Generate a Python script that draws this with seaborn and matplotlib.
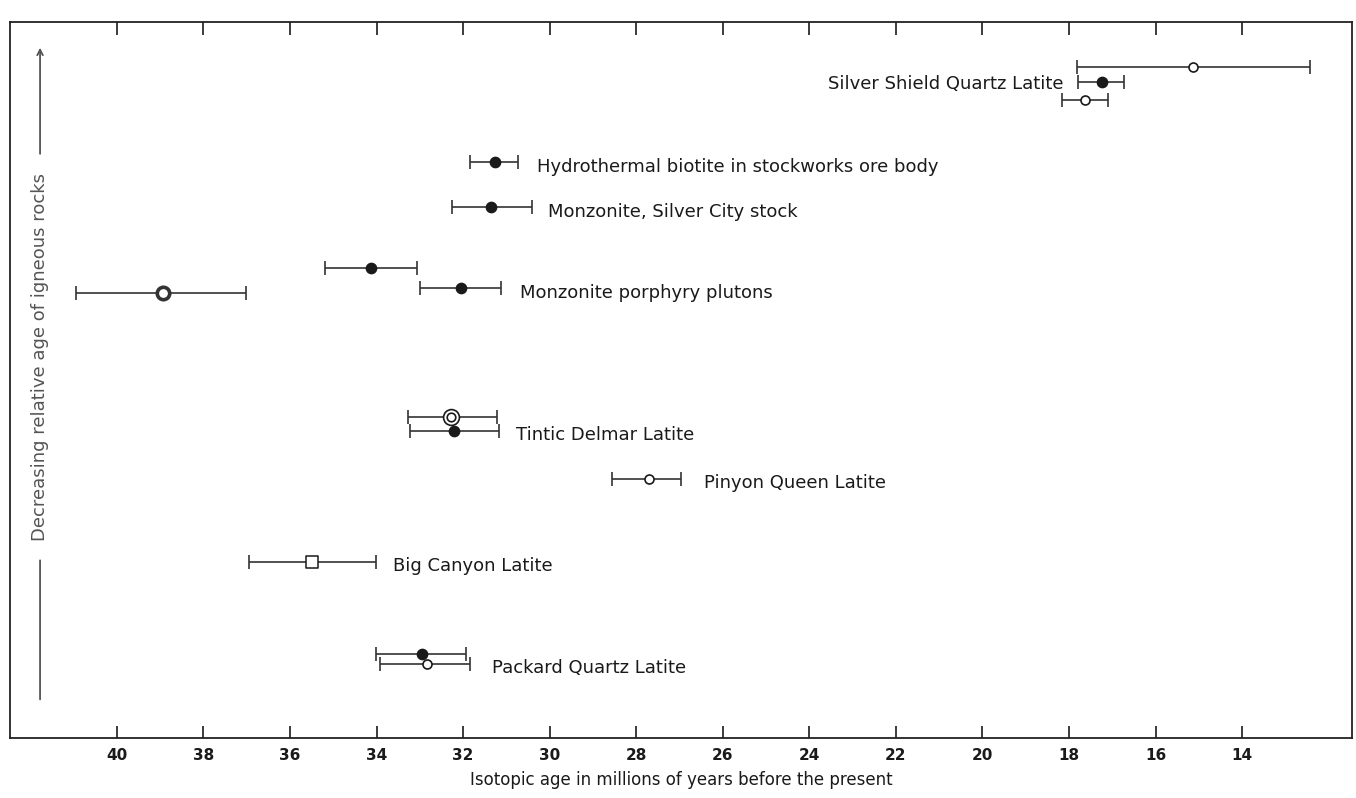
import numpy as np
import pandas as pd
import seaborn as sns
import matplotlib.pyplot as plt

# ages in Ma (best estimate, lower/upper error limits)
sample = ['Silver Shield a', 'Silver Shield b', 'Silver Shield c',
          'Hydrothermal biotite', 'Monzonite SC',
          'Monz porphyry a', 'Monz porphyry b', 'Monz porphyry c',
          'Tintic a', 'Tintic b', 'Pinyon Queen', 'Big Canyon',
          'Packard a', 'Packard b']
age = [15.13, 17.24, 17.63, 31.27, 31.36, 34.13, 32.05, 38.94,
       32.28, 32.21, 27.71, 35.49, 32.95, 32.84]
age_old = [17.84, 17.74, 18.16, 31.80, 32.32, 35.19, 32.97, 40.86,
           33.35, 33.25, 28.46, 36.97, 33.97, 33.83]
age_young = [12.45, 16.69, 17.09, 30.71, 30.46, 33.07, 31.10, 36.93,
             31.29, 31.20, 26.85, 34.04, 31.88, 31.75]
# relative stratigraphic position (0 = oldest at bottom, 100 = youngest at top)
rel_pos = [93.7, 91.6, 89.1, 80.4, 74.1, 65.6, 62.8, 62.2,
           44.9, 42.9, 36.2, 24.6, 11.7, 10.4]
symbol = ['open', 'filled', 'open', 'filled', 'filled', 'filled', 'filled',
          'thick', 'double', 'filled', 'open', 'square', 'filled', 'open']

label_text = ['Silver Shield Quartz Latite',
              'Hydrothermal biotite in stockworks ore body',
              'Monzonite, Silver City stock',
              'Monzonite porphyry plutons',
              'Tintic Delmar Latite',
              'Pinyon Queen Latite',
              'Big Canyon Latite',
              'Packard Quartz Latite']
label_row = [1, 3, 4, 6, 9, 10, 11, 13]
label_side = ['left', 'right', 'right', 'right', 'right', 'right', 'right', 'right']

x_ticks = list(range(40, 13, -2))

df = pd.DataFrame({'sample': sample, 'age': age, 'old': age_old,
                   'young': age_young, 'pos': rel_pos, 'symbol': symbol})

sns.set_style('white')
plt.rcParams['font.family'] = ['DejaVu Sans']

fig = plt.figure(figsize=(13.56, 7.98), dpi=100)
ax = fig.add_axes([10 / 1356, 1 - 738 / 798, 1342 / 1356, 716 / 798])

ink = '#1a1a1a'

# error bars
ax.errorbar(df['age'], df['pos'],
            xerr=[df['old'] - df['age'], df['age'] - df['young']],
            fmt='none', ecolor='#333333', elinewidth=1.2, capsize=4.8,
            capthick=1.2, zorder=2)

# symbols
styles = {
    'filled': dict(marker='o', s=55, facecolor=ink, edgecolor=ink, linewidth=1),
    'open': dict(marker='o', s=42, facecolor='white', edgecolor=ink, linewidth=1.2),
    'thick': dict(marker='o', s=80, facecolor='white', edgecolor='#333333', linewidth=2.6),
    'double': dict(marker='o', s=130, facecolor='white', edgecolor=ink, linewidth=1.2),
    'square': dict(marker='s', s=65, facecolor='white', edgecolor=ink, linewidth=1.1),
}
for sym, kw in styles.items():
    sub = df[df['symbol'] == sym]
    if len(sub):
        sns.scatterplot(data=sub, x='age', y='pos', ax=ax, zorder=3,
                        legend=False, **kw)
sub = df[df['symbol'] == 'double']
sns.scatterplot(data=sub, x='age', y='pos', ax=ax, zorder=4, legend=False,
                marker='o', s=38, facecolor='white', edgecolor=ink, linewidth=1.2)

# sample labels
for txt, row, side in zip(label_text, label_row, label_side):
    if side == 'right':
        ax.annotate(txt, xy=(df['young'][row], df['pos'][row]), xytext=(13, -3),
                    textcoords='offset points', ha='left', va='center',
                    fontsize=13, color=ink)
    else:
        ax.annotate(txt, xy=(df['old'][row], df['pos'][row]), xytext=(-12, -1),
                    textcoords='offset points', ha='right', va='center',
                    fontsize=13, color=ink)

ax.set_xlim(42.47, 11.46)
ax.set_ylim(0, 100)
ax.set_xticks(x_ticks)
ax.set_xticklabels([str(t) for t in x_ticks], fontweight='bold', fontsize=11)
ax.set_yticks([])
ax.tick_params(axis='x', which='both', direction='in', length=9, width=1.2,
               top=True, bottom=True, labeltop=False, pad=7, colors=ink)
for sp in ax.spines.values():
    sp.set_color('#222222')
    sp.set_linewidth(1.3)

ax.set_xlabel('Isotopic age in millions of years before the present',
              fontsize=12, color=ink, labelpad=6)
ax.set_ylabel('')

# vertical label with arrow inside the frame
ax.text(0.0224, 0.532, 'Decreasing relative age of igneous rocks', rotation=90,
        transform=ax.transAxes, ha='center', va='center', fontsize=13,
        color='#555555')
ax.annotate('', xy=(0.0224, 0.252), xytext=(0.0224, 0.05), xycoords='axes fraction',
            arrowprops=dict(arrowstyle='-', color='#555555', lw=1.3))
ax.annotate('', xy=(0.0224, 0.968), xytext=(0.0224, 0.812), xycoords='axes fraction',
            arrowprops=dict(arrowstyle='->', color='#555555', lw=1.3))

fig.savefig('out.png', dpi=100)
